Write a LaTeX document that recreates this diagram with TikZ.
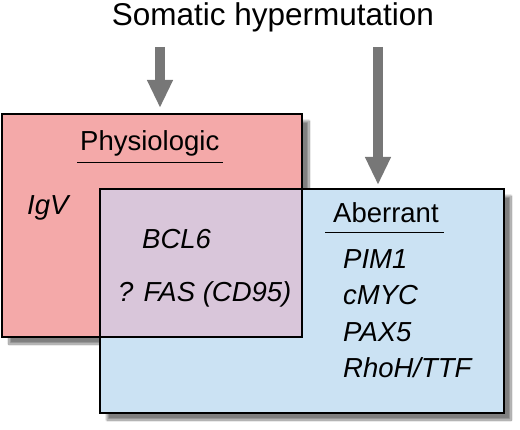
\documentclass[tikz,border=0pt]{standalone}
\usepackage{fontspec}
\setmainfont{Liberation Sans}
\usetikzlibrary{arrows.meta,shadows.blur}
\definecolor{physpink}{HTML}{F4A9A9}
\definecolor{aberblue}{HTML}{CBE2F3}
\definecolor{bothpurple}{HTML}{D9C6DA}
\definecolor{shmgray}{HTML}{777777}
\newcommand{\gene}[1]{\textit{#1}}

\begin{document}
\begin{tikzpicture}[x=1pt, y=1pt,
  box/.style={draw=black, line width=1.2pt, inner sep=0pt, outer sep=0pt,
    blur shadow={shadow xshift=7pt, shadow yshift=-7pt, shadow blur steps=12, shadow opacity=50}},
  lbl/.style={inner sep=0pt, anchor=base west, font=\fontsize{27.5}{32}\selectfont},
  shm/.style={draw=shmgray, line width=10pt, -{Triangle[width=24pt, length=28pt]}}]

  \useasboundingbox (0,0) rectangle (520,-430);

  % title
  \node[inner sep=0pt, anchor=base] (title) at (273,-26) {\fontsize{31.5}{36}\selectfont Somatic hypermutation};

  % the two sets
  \node[box, fill=physpink, minimum width=300pt, minimum height=223pt] (phys) at (152,-225.5) {};
  \node[box, fill=aberblue, minimum width=404pt, minimum height=224pt] (aber) at (302,-301) {};
  \fill[bothpurple] (phys.south east) rectangle (aber.north west);
  \draw[line width=1.2pt] (phys.south west) rectangle (phys.north east);
  \draw[line width=1.2pt] (aber.south west) rectangle (aber.north east);

  % arrows
  \coordinate (physin) at (160,-47);
  \coordinate (aberin) at (378,-47);
  \draw[shm, shorten >=6pt] (physin) -- (physin |- phys.north);
  \draw[shm, shorten >=4pt] (aberin) -- (aberin |- aber.north);

  % headings
  \node[lbl] (physlbl) at (80,-151) {Physiologic};
  \draw[line width=1pt] ([xshift=-3pt, yshift=-6pt]physlbl.south west) -- ([xshift=4pt, yshift=-6pt]physlbl.south east);
  \node[lbl] (aberlbl) at (333,-223) {Aberrant};
  \draw[line width=1pt] ([xshift=-8pt, yshift=-9pt]aberlbl.south west) -- ([xshift=5pt, yshift=-9pt]aberlbl.south east);

  % genes
  \node[lbl] (igv) at (27,-215) {\gene{IgV}};
  \node[lbl] (bcl) at (142,-249) {\gene{BCL6}};
  \node[lbl] (fas) at (118,-302) {\gene{? FAS (CD95)}};
  \node[lbl] (pim) at (343,-269) {\gene{PIM1}};
  \node[lbl] (myc) at (343,-305) {\gene{cMYC}};
  \node[lbl] (pax) at (343,-342) {\gene{PAX5}};
  \node[lbl] (rho) at (343,-378) {\gene{RhoH/TTF}};
\end{tikzpicture}
\end{document}
